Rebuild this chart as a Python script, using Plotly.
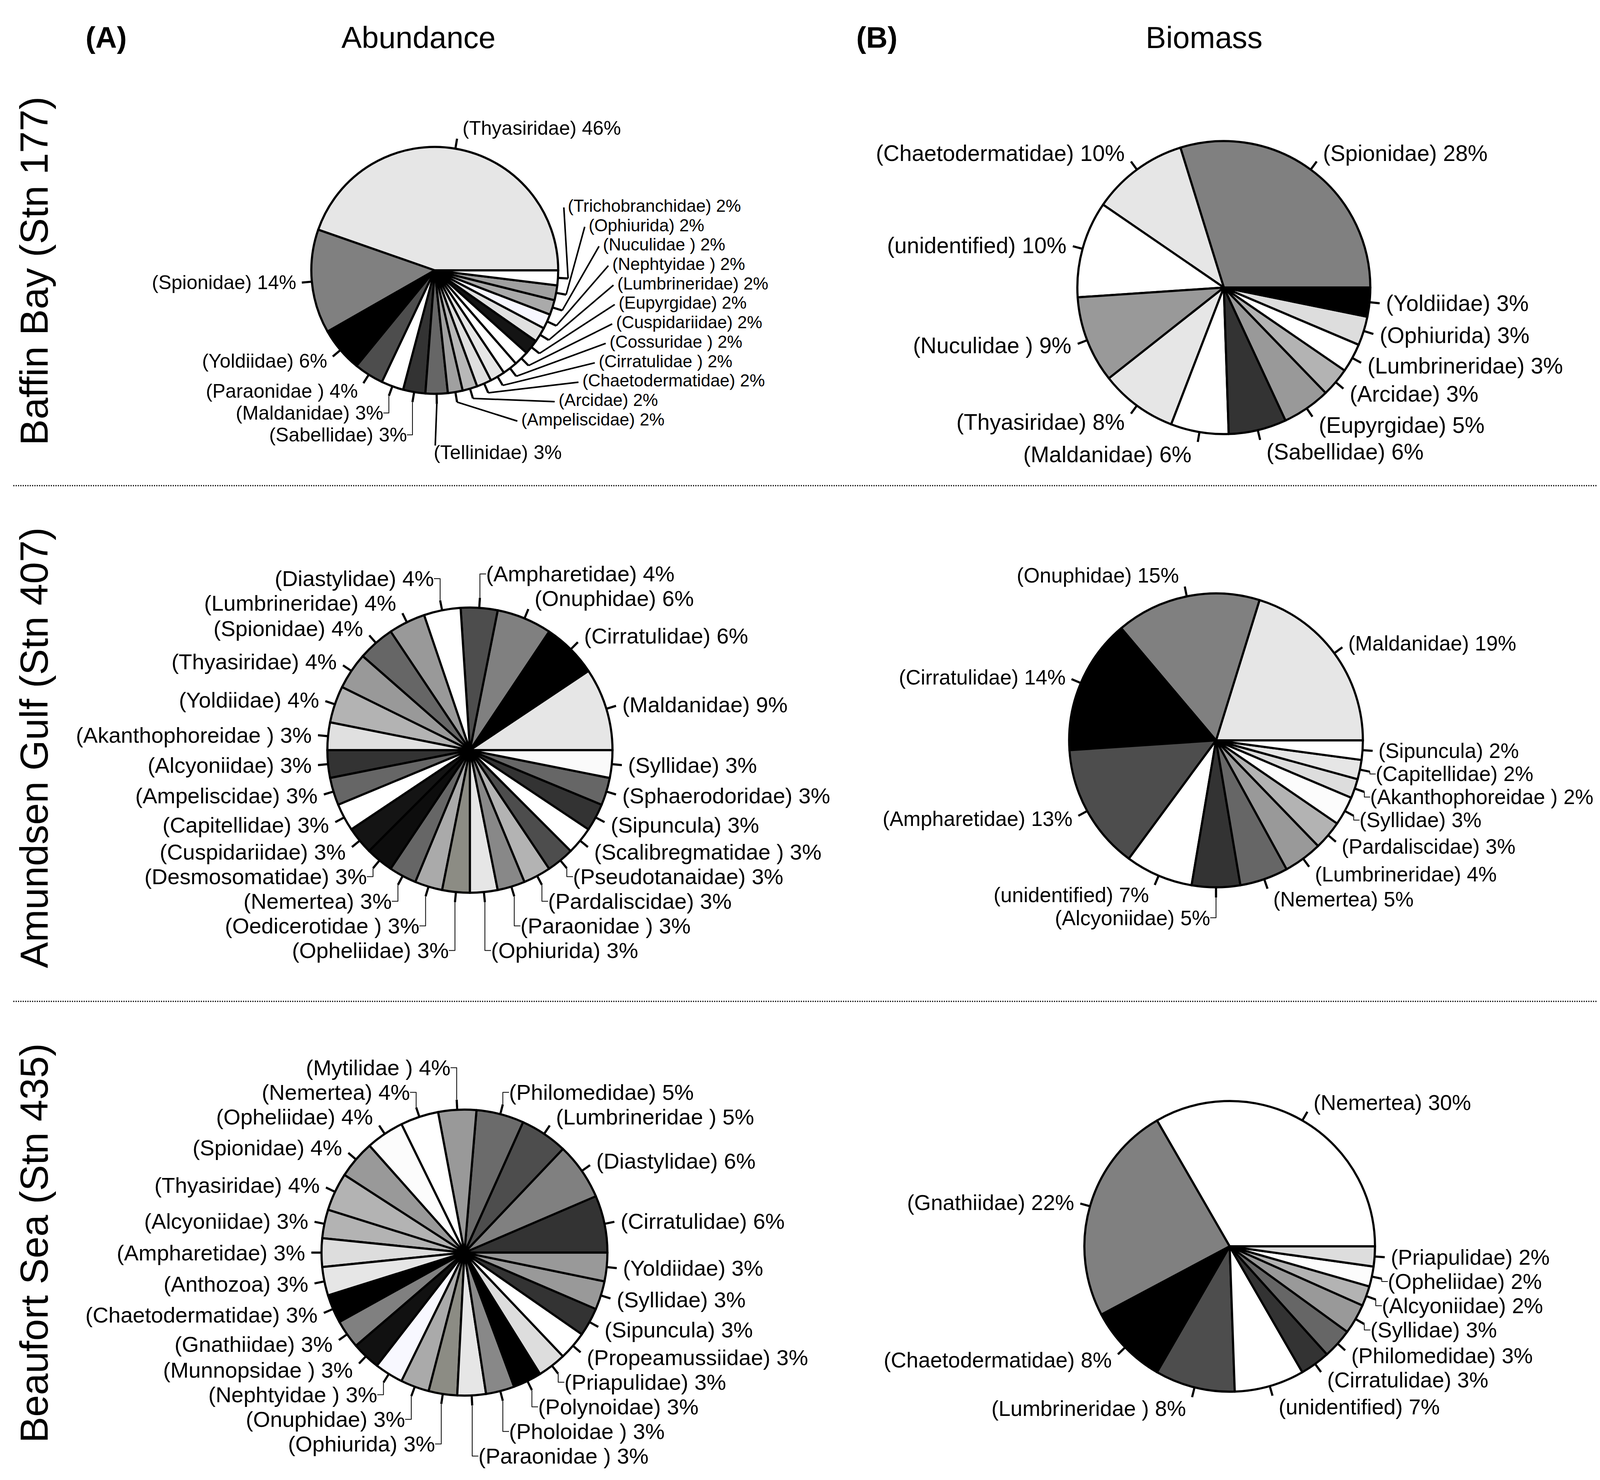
import math
import plotly.graph_objects as go

W, H = 4139, 3788
FONT = "Liberation Sans, Arial, Helvetica, sans-serif"

# ---------------- data ----------------
baffin_abund_names = ["Thyasiridae", "Spionidae", "Yoldiidae", "Paraonidae ", "Maldanidae",
                      "Sabellidae", "Tellinidae", "Ampeliscidae", "Arcidae", "Chaetodermatidae",
                      "Cirratulidae ", "Cossuridae ", "Cuspidariidae", "Eupyrgidae", "Lumbrineridae",
                      "Nephtyidae ", "Nuculidae ", "Ophiurida", "Trichobranchidae"]
baffin_abund_values = [46, 14, 6, 4, 3, 3, 3, 2, 2, 2, 2, 2, 2, 2, 2, 2, 2, 2, 2]

baffin_bio_names = ["Spionidae", "Chaetodermatidae", "unidentified", "Nuculidae ", "Thyasiridae",
                    "Maldanidae", "Sabellidae", "Eupyrgidae", "Arcidae", "Lumbrineridae",
                    "Ophiurida", "Yoldiidae"]
baffin_bio_values = [28, 10, 10, 9, 8, 6, 6, 5, 3, 3, 3, 3]

amundsen_abund_names = ["Maldanidae", "Cirratulidae", "Onuphidae", "Ampharetidae", "Diastylidae",
                        "Lumbrineridae", "Spionidae", "Thyasiridae", "Yoldiidae", "Akanthophoreidae ",
                        "Alcyoniidae", "Ampeliscidae", "Capitellidae", "Cuspidariidae", "Desmosomatidae",
                        "Nemertea", "Oedicerotidae ", "Opheliidae", "Ophiurida", "Paraonidae ",
                        "Pardaliscidae", "Pseudotanaidae", "Scalibregmatidae ", "Sipuncula",
                        "Sphaerodoridae", "Syllidae"]
amundsen_abund_values = [9, 6, 6, 4, 4, 4, 4, 4, 4, 3, 3, 3, 3, 3, 3, 3, 3, 3, 3, 3, 3, 3, 3, 3, 3, 3]

amundsen_bio_names = ["Maldanidae", "Onuphidae", "Cirratulidae", "Ampharetidae", "unidentified",
                      "Alcyoniidae", "Nemertea", "Lumbrineridae", "Pardaliscidae", "Syllidae",
                      "Akanthophoreidae ", "Capitellidae", "Sipuncula"]
amundsen_bio_values = [19, 15, 14, 13, 7, 5, 5, 4, 3, 3, 2, 2, 2]

beaufort_abund_names = ["Cirratulidae", "Diastylidae", "Lumbrineridae ", "Philomedidae", "Mytilidae ",
                        "Nemertea", "Opheliidae", "Spionidae", "Thyasiridae", "Alcyoniidae",
                        "Ampharetidae", "Anthozoa", "Chaetodermatidae", "Gnathiidae", "Munnopsidae ",
                        "Nephtyidae ", "Onuphidae", "Ophiurida", "Paraonidae ", "Pholoidae ",
                        "Polynoidae", "Priapulidae", "Propeamussiidae", "Sipuncula", "Syllidae",
                        "Yoldiidae"]
beaufort_abund_values = [6, 6, 5, 5, 4, 4, 4, 4, 4, 3, 3, 3, 3, 3, 3, 3, 3, 3, 3, 3, 3, 3, 3, 3, 3, 3]

beaufort_bio_names = ["Nemertea", "Gnathiidae", "Chaetodermatidae", "Lumbrineridae ", "unidentified",
                      "Cirratulidae", "Philomedidae", "Syllidae", "Alcyoniidae", "Opheliidae",
                      "Priapulidae"]
beaufort_bio_values = [30, 22, 8, 8, 7, 3, 3, 3, 2, 2, 2]

column_titles = ["Abundance", "Biomass"]
panel_letters = ["(A)", "(B)"]
row_titles = ["Baffin Bay (Stn 177)", "Amundsen Gulf (Stn 407)", "Beaufort Sea (Stn 435)"]

# ---------------- styles ----------------
baffin_abund_colors = ["#e6e6e6", "#808080", "#000000", "#4d4d4d", "#ffffff", "#333333", "#666666",
                       "#a0a0a0", "#b8b8b8", "#dedede", "#e6e6e6", "#ffffff", "#ffffff", "#141414",
                       "#e0e0e0", "#f7f7ff", "#aaaaaa", "#a0a0a0", "#ffffff"]
baffin_bio_colors = ["#808080", "#e6e6e6", "#ffffff", "#999999", "#e6e6e6", "#ffffff", "#333333",
                     "#999999", "#b3b3b3", "#ffffff", "#dddddd", "#000000"]
amundsen_abund_colors = ["#e6e6e6", "#000000", "#808080", "#4d4d4d", "#ffffff", "#999999", "#666666",
                         "#999999", "#b3b3b3", "#e0e0e0", "#333333", "#666666", "#ffffff", "#141414",
                         "#0d0d0d", "#666666", "#aaaaaa", "#8c8c84", "#e6e6e6", "#888888", "#b3b3b3",
                         "#4d4d4d", "#ffffff", "#333333", "#666666", "#fafafa"]
amundsen_bio_colors = ["#e6e6e6", "#808080", "#000000", "#4d4d4d", "#ffffff", "#333333", "#666666",
                       "#999999", "#b3b3b3", "#fcfcfc", "#dddddd", "#e6e6e6", "#ffffff"]
beaufort_abund_colors = ["#333333", "#808080", "#4d4d4d", "#6b6b6b", "#999999", "#ffffff", "#fcfcfc",
                         "#999999", "#b3b3b3", "#b3b3b3", "#dddddd", "#e6e6e6", "#000000", "#808080",
                         "#111111", "#f8f8ff", "#aaaaaa", "#8c8c84", "#e6e6e6", "#888888", "#000000",
                         "#dddddd", "#ffffff", "#333333", "#999999", "#999999"]
beaufort_bio_colors = ["#ffffff", "#808080", "#000000", "#4d4d4d", "#ffffff", "#333333", "#666666",
                       "#999999", "#b3b3b3", "#fcfcfc", "#dddddd"]

TICK = 26   # length of the short label ticks, px
EDGE = 5.5  # slice border width, px
SMALL_FONT = 44

fig = go.Figure()
polar_layouts = {}


def dom(cx, cy, rad):
    return dict(x=[(cx - rad) / W, (cx + rad) / W], y=[1 - (cy + rad) / H, 1 - (cy - rad) / H])


def add_pie(idx, names, values, colors, cx, cy, r, size, stack_small=None, drop_names=()):
    total = float(sum(values))
    # plotly's counterclockwise mode puts the first slice clockwise of the rotation
    # point, so shift the rotation by the first slice's angle to start it at 3 o'clock
    first_angle = 360.0 * values[0] / total
    rot = 90 - first_angle
    labels_txt = ["(%s) %d%%" % (n, v) for n, v in zip(names, values)]

    # slice middle angles (degrees, counterclockwise from 3 o'clock)
    mids = []
    cum = 0.0
    for v in values:
        mids.append(360.0 * (cum + v / 2.0) / total)
        cum += v

    # visible slices
    fig.add_trace(go.Pie(
        labels=names, values=values, textinfo="none", sort=False,
        direction="counterclockwise", rotation=rot,
        marker=dict(colors=colors, line=dict(color="black", width=EDGE)),
        domain=dom(cx, cy, r), showlegend=False, hoverinfo="label+value",
    ))

    # label ticks: from the pie edge outwards at each slice's middle angle
    thetas, radii = [], []
    inner = r / float(r + TICK)
    for m in mids:
        thetas += [m, m, None]
        radii += [inner, 1.0, None]
    pname = "polar" if idx == 1 else "polar%d" % idx
    fig.add_trace(go.Scatterpolar(
        r=radii, theta=thetas, mode="lines", subplot=pname,
        line=dict(color="black", width=EDGE), showlegend=False, hoverinfo="skip",
    ))
    polar_layouts[pname] = dict(
        domain=dom(cx, cy, r + TICK), bgcolor="rgba(0,0,0,0)",
        radialaxis=dict(visible=False, range=[0, 1]),
        angularaxis=dict(visible=False, rotation=0, direction="counterclockwise"),
    )

    pie_txt = list(labels_txt)
    if stack_small is not None:
        lx, ly = [], []
        # crowded small slices: stacked list to the right with leader lines
        small = [i for i, v in enumerate(values) if v <= stack_small]
        small.sort(key=lambda i: -mids[i])
        tx, ty, tt = [], [], []
        top = cy - 0.51 * r
        step = 1.13 * SMALL_FONT
        for k, i in enumerate(small):
            pie_txt[i] = ""
            y = top + k * step
            q = (y - cy - 0.25 * r) / (1.1 * r)
            x = cx + 1.49 * r * math.sqrt(max(0.0, 1 - q * q))
            a = math.radians(mids[i])
            lx += [cx + (r + TICK) * math.cos(a), x - 10, None]
            ly += [cy - (r + TICK) * math.sin(a), y, None]
            tx.append(x)
            ty.append(y)
            tt.append(labels_txt[i])
        fig.add_trace(go.Scatter(x=tx, y=ty, mode="text", text=tt, textposition="middle right",
                                 textfont=dict(family=FONT, size=SMALL_FONT, color="black"),
                                 showlegend=False, hoverinfo="skip", xaxis="x", yaxis="y"))
        # labels dropped straight below the pie on a long vertical leader
        dx_, dy_, dt_ = [], [], []
        for i, n in enumerate(names):
            if n in drop_names:
                pie_txt[i] = ""
                a = math.radians(mids[i])
                x0 = cx + (r + TICK) * math.cos(a)
                y0 = cy - (r + TICK) * math.sin(a)
                y1 = cy + 1.49 * r
                lx += [x0, x0 - 4, None]
                ly += [y0, y1 - 0.45 * size, None]
                dx_.append(x0 - 8)
                dy_.append(y1)
                dt_.append(labels_txt[i])
        fig.add_trace(go.Scatter(x=dx_, y=dy_, mode="text", text=dt_, textposition="middle right",
                                 textfont=dict(family=FONT, size=size, color="black"),
                                 showlegend=False, hoverinfo="skip", xaxis="x", yaxis="y"))
        fig.add_trace(go.Scatter(x=lx, y=ly, mode="lines", line=dict(color="black", width=4),
                                 showlegend=False, hoverinfo="skip", xaxis="x", yaxis="y"))

    # labels, placed from the tick ends
    fig.add_trace(go.Pie(
        labels=names, values=values, text=pie_txt, textinfo="text",
        textposition="outside", sort=False,
        direction="counterclockwise", rotation=rot,
        marker=dict(colors=["rgba(0,0,0,0)"] * len(values), line=dict(width=0)),
        outsidetextfont=dict(family=FONT, size=size, color="black"),
        domain=dom(cx, cy, r + TICK), showlegend=False, hoverinfo="skip",
    ))


add_pie(1, baffin_abund_names, baffin_abund_values, baffin_abund_colors, 1105, 684, 316, 50,
        stack_small=2, drop_names=("Tellinidae",))
add_pie(2, baffin_bio_names, baffin_bio_values, baffin_bio_colors, 3125, 728, 375, 57)
add_pie(3, amundsen_abund_names, amundsen_abund_values, amundsen_abund_colors, 1195, 1912, 365, 56)
add_pie(4, amundsen_bio_names, amundsen_bio_values, amundsen_bio_colors, 3105, 1887, 376, 53)
add_pie(5, beaufort_abund_names, beaufort_abund_values, beaufort_abund_colors, 1181, 3198, 366, 56)
add_pie(6, beaufort_bio_names, beaufort_bio_values, beaufort_bio_colors, 3140, 3182, 372, 55)

annotations = []
for letter, lx in zip(panel_letters, [264, 2237]):
    annotations.append(dict(text="<b>%s</b>" % letter, x=lx / W, y=1 - 88 / H, xref="paper", yref="paper",
                            xanchor="center", yanchor="middle",
                            showarrow=False, font=dict(family=FONT, size=76, color="black")))
for t, tx in zip(column_titles, [1063, 3074]):
    annotations.append(dict(text=t, x=tx / W, y=1 - 88 / H, xref="paper", yref="paper",
                            xanchor="center", yanchor="middle",
                            showarrow=False, font=dict(family=FONT, size=78, color="black")))
for t, ty in zip(row_titles, [686, 1906, 3174]):
    annotations.append(dict(text=t, x=79 / W, y=1 - ty / H, xref="paper", yref="paper",
                            xanchor="center", yanchor="middle",
                            showarrow=False, textangle=-90, font=dict(family=FONT, size=100, color="black")))

shapes = []
for sy in [1235, 2555]:
    shapes.append(dict(type="line", xref="paper", yref="paper", x0=26 / W, x1=4118 / W,
                       y0=1 - sy / H, y1=1 - sy / H, line=dict(color="black", width=3, dash="dot")))

fig.update_layout(
    width=W, height=H,
    margin=dict(l=0, r=0, t=0, b=0),
    paper_bgcolor="white", plot_bgcolor="rgba(0,0,0,0)",
    annotations=annotations, shapes=shapes,
    font=dict(family=FONT, color="black"),
    xaxis=dict(range=[0, W], domain=[0, 1], visible=False, fixedrange=True),
    yaxis=dict(range=[H, 0], domain=[0, 1], visible=False, fixedrange=True),
    **polar_layouts
)

fig.write_html("out.html")
